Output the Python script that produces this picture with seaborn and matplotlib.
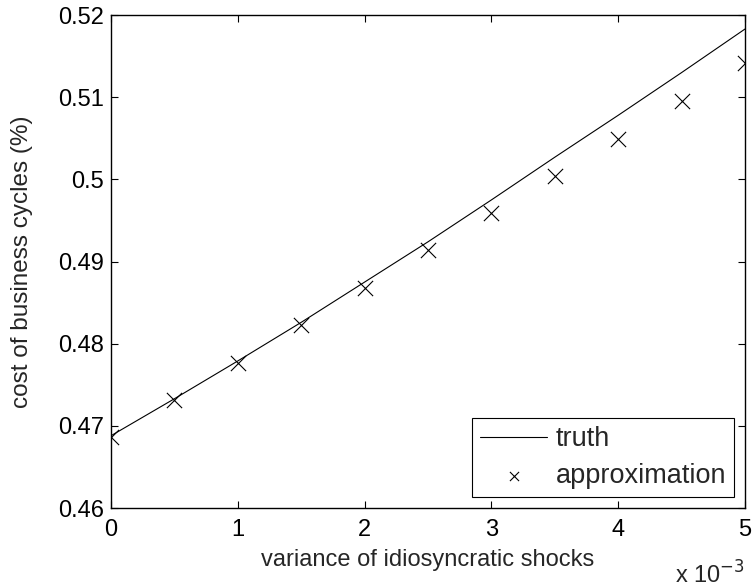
import numpy as np
import pandas as pd
import seaborn as sns
import matplotlib.pyplot as plt
from matplotlib.ticker import FuncFormatter, MultipleLocator

# data -----------------------------------
variance = [0.0, 0.0005, 0.001, 0.0015, 0.002, 0.0025, 0.003, 0.0035, 0.004, 0.0045, 0.005]
truth = [0.4688, 0.4733, 0.4779, 0.4826, 0.4875, 0.4924, 0.4975, 0.5027, 0.5078, 0.5130, 0.5183]
approximation = [0.4687, 0.4732, 0.4777, 0.4823, 0.4868, 0.4914, 0.4959, 0.5004, 0.5049, 0.5095, 0.5142]

df = pd.DataFrame({"variance": variance, "truth": truth, "approximation": approximation})

sns.set_theme(style='ticks')
plt.rcParams['font.family'] = ['Liberation Sans', 'DejaVu Sans']
plt.rcParams['xtick.direction'] = 'in'
plt.rcParams['ytick.direction'] = 'in'

fig = plt.figure(figsize=(7.52, 5.88), dpi=100)
ax = fig.add_axes([0.1476, 0.136, 0.8431, 0.8384])

sns.lineplot(data=df, x="variance", y="truth", color='black', linewidth=0.8,
             label="truth", ax=ax)
sns.scatterplot(data=df, x="variance", y="approximation", marker="x", color='black',
                s=120, linewidth=0.8, label="approximation", ax=ax)

ax.set_xlim(0, 0.005)
ax.set_ylim(0.46, 0.52)
ax.xaxis.set_major_locator(MultipleLocator(0.001))
ax.yaxis.set_major_locator(MultipleLocator(0.01))
ax.xaxis.set_major_formatter(FuncFormatter(lambda v, _: f"{v * 1e3:g}"))
ax.yaxis.set_major_formatter(FuncFormatter(lambda v, _: f"{round(v, 2):g}"))
ax.tick_params(axis='both', labelsize=17, length=5, width=0.8, top=True, right=True,
               colors='black')
ax.tick_params(axis='x', pad=8)
ax.tick_params(axis='y', pad=5)
for sp in ax.spines.values():
    sp.set_linewidth(1.0)
    sp.set_color('black')

ax.set_xlabel("variance of idiosyncratic shocks", fontsize=17, labelpad=6)
ax.set_ylabel("cost of business cycles (%)", fontsize=17.5, labelpad=18)
ax.text(1.0, -0.108, r"x 10$^{-3}$", transform=ax.transAxes, fontsize=17,
        ha='right', va='top')

leg = ax.legend(loc='lower right', fontsize=19.5, frameon=True, fancybox=False,
                edgecolor='black', framealpha=1, handlelength=2.5,
                borderpad=0.3, labelspacing=0.4, handletextpad=0.3,
                borderaxespad=0.4, markerscale=0.6)
leg.get_frame().set_linewidth(0.8)

plt.savefig("out.png", dpi=100)
plt.close()
